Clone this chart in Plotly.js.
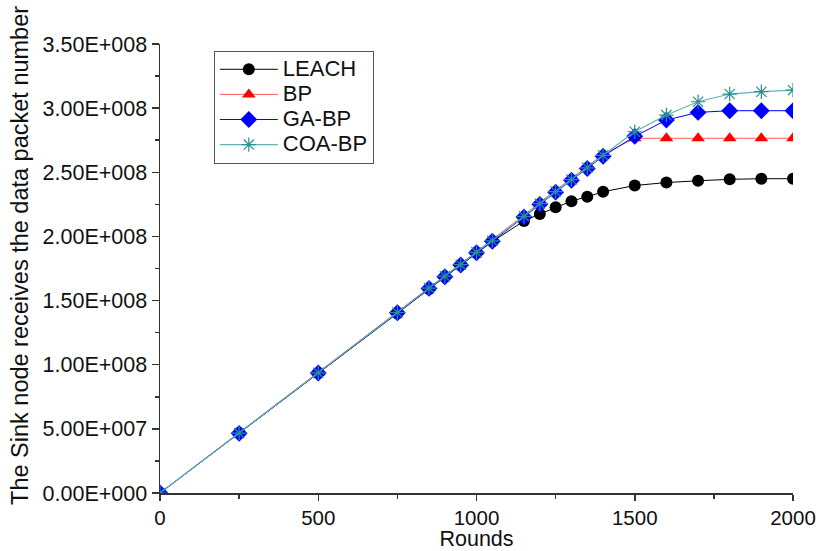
<!DOCTYPE html>
<html>
<head>
<meta charset="utf-8">
<script src="https://cdn.plot.ly/plotly-3.0.1.min.js"></script>
<style>html,body{margin:0;padding:0;background:#fff;}#chart{width:820px;height:551px;}</style>
</head>
<body>
<div id="chart"></div>
<script>
var rounds = [0,250,500,750,850,900,950,1000,1050,1150,1200,1250,1300,1350,1400,1500,1600,1700,1800,1900,2000];
var leach = [0,0.465e8,0.935e8,1.40e8,1.59e8,1.685e8,1.775e8,1.87e8,1.96e8,2.12e8,2.175e8,2.227e8,2.275e8,2.31e8,2.348e8,2.397e8,2.42e8,2.434e8,2.445e8,2.45e8,2.45e8];
var bp = [0,0.47e8,0.94e8,1.41e8,1.60e8,1.695e8,1.785e8,1.88e8,1.975e8,2.165e8,2.265e8,2.36e8,2.45e8,2.545e8,2.64e8,2.765e8,2.765e8,2.765e8,2.765e8,2.765e8,2.765e8];
var gabp = [0,0.465e8,0.935e8,1.405e8,1.595e8,1.686e8,1.777e8,1.873e8,1.962e8,2.152e8,2.25e8,2.345e8,2.438e8,2.53e8,2.625e8,2.78e8,2.907e8,2.967e8,2.98e8,2.98e8,2.98e8];
var coabp = [0,0.467e8,0.937e8,1.407e8,1.597e8,1.69e8,1.78e8,1.876e8,1.966e8,2.157e8,2.255e8,2.35e8,2.443e8,2.535e8,2.632e8,2.816e8,2.946e8,3.05e8,3.11e8,3.128e8,3.14e8];
var seriesNames = ["LEACH","BP","GA-BP","COA-BP"];
var yTickVals = [0,0.5e8,1.0e8,1.5e8,2.0e8,2.5e8,3.0e8,3.5e8];
var yTickText = ["0.00E+000","5.00E+007","1.00E+008","1.50E+008","2.00E+008","2.50E+008","3.00E+008","3.50E+008"];
var xTickVals = [0,500,1000,1500,2000];
var xTickText = ["0","500","1000","1500","2000"];

var FONT = "'Liberation Sans', Arial, sans-serif";
function legName(s) { return '<span style="font-size:22px">' + s + '</span>'; }

var traces = [
  {x: rounds, y: leach, name: legName(seriesNames[0]), mode: "lines+markers",
   line: {color: "#000000", width: 1}, marker: {symbol: "circle", size: 12, color: "#000000"}},
  {x: rounds, y: bp, name: legName(seriesNames[1]), mode: "lines+markers",
   line: {color: "#ff5a5a", width: 1}, marker: {symbol: "triangle-up", size: 12, color: "#ff0000"}},
  {x: rounds, y: gabp, name: legName(seriesNames[2]), mode: "lines+markers",
   line: {color: "#0000ff", width: 1}, marker: {symbol: "diamond", size: 13, color: "#0000ff"}},
  {x: rounds, y: coabp, name: legName(seriesNames[3]), mode: "lines+markers",
   line: {color: "#5fb5b5", width: 1.2}, marker: {symbol: "asterisk-open", size: 12, color: "#2a8f8f", line: {color: "#2a8f8f", width: 1.2}}}
];

var layout = {
  width: 820, height: 551,
  margin: {l: 160, r: 27, t: 44, b: 58, pad: 0},
  paper_bgcolor: "#ffffff", plot_bgcolor: "#ffffff",
  font: {family: FONT, color: "#111111"},
  showlegend: true,
  legend: {
    x: 0.085, y: 0.985, xanchor: "left", yanchor: "top",
    bgcolor: "#ffffff", bordercolor: "#555555", borderwidth: 1,
    font: {family: FONT, size: 17, color: "#111111"},
    itemwidth: 58, tracegroupgap: 0
  },
  xaxis: {
    range: [0, 2000], showgrid: false, zeroline: false,
    showline: true, linecolor: "#333333", linewidth: 1.5,
    ticks: "outside", ticklen: 6, tickwidth: 1.5, tickcolor: "#333333",
    tickmode: "array", tickvals: xTickVals, ticktext: xTickText,
    tickfont: {family: FONT, size: 20.5, color: "#111111"},
    minor: {dtick: 250, tick0: 0, ticks: "outside", ticklen: 4, tickwidth: 1.5, tickcolor: "#333333"},
    title: {text: "Rounds", font: {family: FONT, size: 21.5, color: "#111111"}, standoff: 4}
  },
  yaxis: {
    range: [0, 3.5e8], showgrid: false, zeroline: false,
    showline: true, linecolor: "#333333", linewidth: 1.5,
    ticks: "outside", ticklen: 7, tickwidth: 1.5, tickcolor: "#333333",
    tickmode: "array", tickvals: yTickVals, ticktext: yTickText,
    tickfont: {family: FONT, size: 21.5, color: "#111111"},
    minor: {dtick: 0.25e8, tick0: 0, ticks: "outside", ticklen: 4, tickwidth: 1.5, tickcolor: "#333333"},
    title: {text: "&nbsp;&nbsp;&nbsp;&nbsp;The Sink node receives the data packet number", font: {family: FONT, size: 23.5, color: "#111111"}, standoff: 7}
  }
};

Plotly.newPlot("chart", traces, layout, {displayModeBar: false, staticPlot: true});
</script>
</body>
</html>
